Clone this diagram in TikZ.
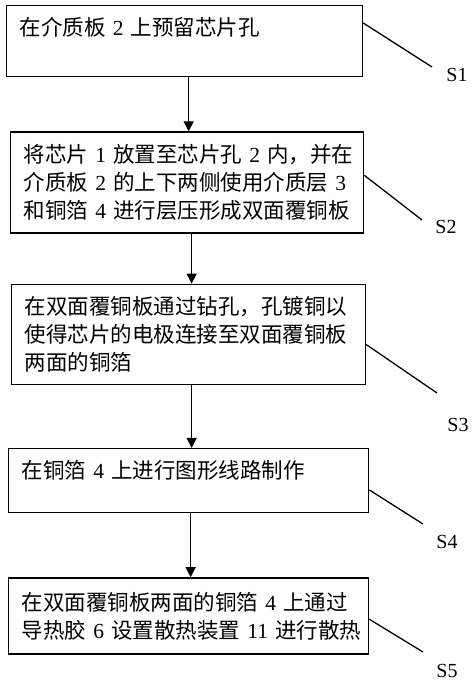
\documentclass[tikz,border=0pt]{standalone}
\usepackage{fontspec}
\setmainfont{Liberation Serif}
\newfontfamily\cjk{Noto Sans CJK SC}
\newcommand\dg[1]{{\rmfamily~#1~}}
\usetikzlibrary{positioning,arrows.meta}

\begin{document}
\begin{tikzpicture}[node distance=54pt]
    \tikzstyle{stepbox} = [rectangle, draw, line width=1.3pt, align=left, inner xsep=13pt, inner ysep=4pt, font={\cjk\fontsize{21.5}{28}\selectfont}]
    \tikzstyle{oneline} = [text height=26pt, text depth=#1]
    \tikzstyle{steplabel} = [inner sep=0pt, font={\fontsize{20}{24}\selectfont}]
    \tikzstyle{arrow} = [line width=1.3pt,-{Triangle[width=10pt,length=10pt]}]
    \tikzstyle{leader} = [line width=1.3pt]

    \useasboundingbox (0pt,0pt) rectangle (474pt,-683pt);

    \node (s1) [stepbox, oneline=37pt, text width=330pt, anchor=north west] at (6pt,-5pt) {在介质板\dg{2}上预留芯片孔};
    \node (s2) [stepbox, text width=327pt, minimum height=101pt, below=54pt of s1, xshift=2.5pt] {将芯片\dg{1}放置至芯片孔\dg{2}内，并在\\介质板\dg{2}的上下两侧使用介质层\dg{3}\\和铜箔\dg{4}进行层压形成双面覆铜板};
    \node (s3) [stepbox, text width=328pt, minimum height=100pt, below=50pt of s2, xshift=1.5pt] {在双面覆铜板通过钻孔，孔镀铜以\\使得芯片的电极连接至双面覆铜板\\两面的铜箔};
    \node (s4) [stepbox, oneline=30pt, text width=334pt, below=63pt of s3] {在铜箔\dg{4}上进行图形线路制作};
    \node (s5) [stepbox, text width=334pt, minimum height=76pt, below=64pt of s4] {在双面覆铜板两面的铜箔\dg{4}上通过\\导热胶\dg{6}设置散热装置\dg{11}进行散热};

    \node (l1) [steplabel] at (457pt,-75pt) {S1};
    \node (l2) [steplabel] at (446pt,-227pt) {S2};
    \node (l3) [steplabel] at (458pt,-425pt) {S3};
    \node (l4) [steplabel] at (447pt,-542pt) {S4};
    \node (l5) [steplabel] at (447pt,-671pt) {S5};

    \draw [arrow] ([xshift=4pt]s1.south) -- ([xshift=4pt]s1.south |- s2.north);
    \draw [arrow] ([xshift=4.5pt]s2.south) -- ([xshift=4.5pt]s2.south |- s3.north);
    \draw [arrow] ([xshift=3pt]s3.south) -- ([xshift=3pt]s3.south |- s4.north);
    \draw [arrow] ([xshift=2pt]s4.south) -- ([xshift=2pt]s4.south |- s5.north);

    \draw [leader] ([yshift=-18pt]s1.north east) -- ([shift={(-25pt,8pt)}]l1.center);
    \draw [leader] ([yshift=-44pt]s2.north east) -- ([shift={(-24pt,7pt)}]l2.center);
    \draw [leader] ([yshift=-61pt]s3.north east) -- ([shift={(-21pt,32pt)}]l3.center);
    \draw [leader] ([yshift=-42pt]s4.north east) -- ([shift={(-24pt,18pt)}]l4.center);
    \draw [leader] ([yshift=-42pt]s5.north east) -- ([shift={(-24pt,19pt)}]l5.center);
\end{tikzpicture}
\end{document}
